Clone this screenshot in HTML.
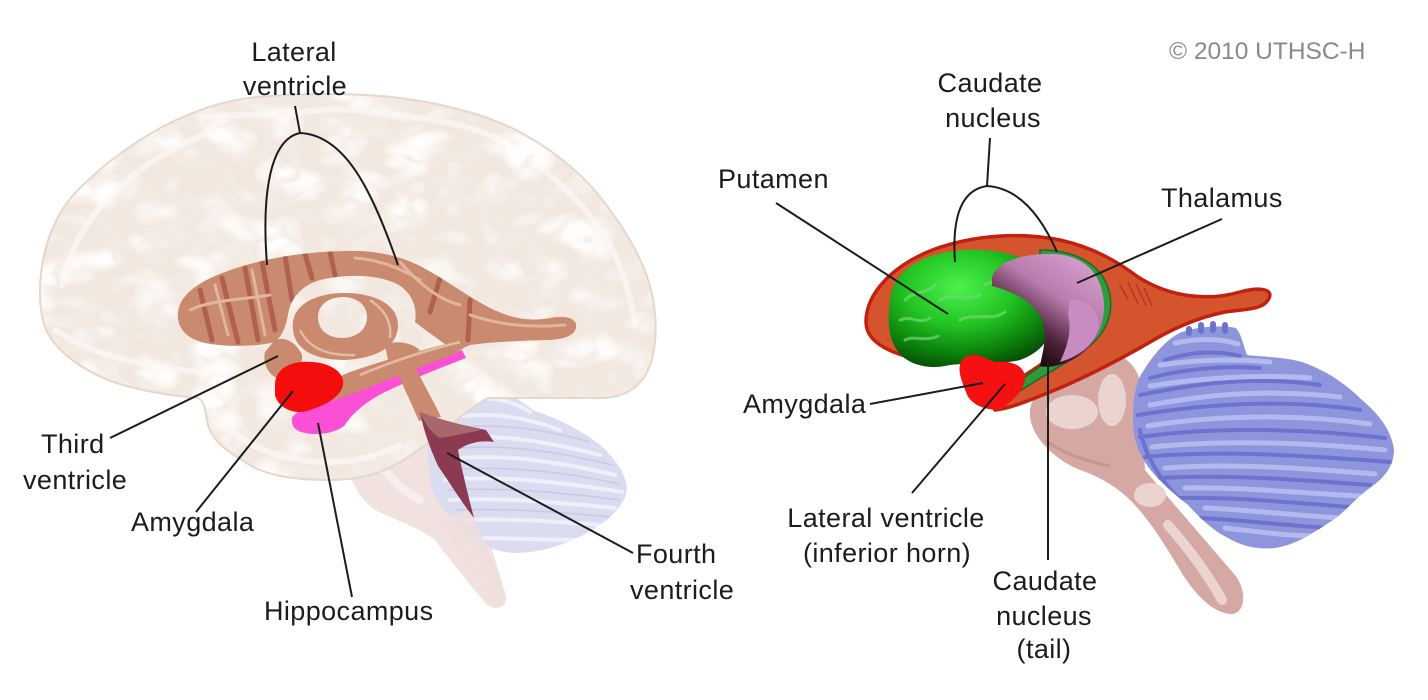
<!DOCTYPE html>
<html>
<head>
<meta charset="utf-8">
<style>
html,body{margin:0;padding:0;background:#fff;}
svg{display:block;}
text{font-family:"Liberation Sans",Arial,sans-serif;font-size:27px;fill:#1c1c1c;letter-spacing:0.4px;}
</style>
</head>
<body>
<svg width="1428" height="700" viewBox="0 0 1428 700" xmlns="http://www.w3.org/2000/svg">
<defs>
  <clipPath id="cbrain">
    <path d="M40,292 C40,250 55,212 80,188 C105,163 130,145 162,127 C195,110 225,100 258,97 C300,93 350,93 392,97 C435,102 478,112 512,128 C548,146 582,172 604,202 C627,232 645,262 652,294 C659,328 656,360 643,379 C633,392 620,397 605,398 L488,398 C465,410 430,445 400,462 C380,475 355,480 330,480 C295,480 265,476 245,462 C225,450 212,440 208,425 C205,412 206,402 198,398 C170,396 135,390 108,380 C80,368 57,352 46,330 C41,318 40,305 40,292 Z"/>
  </clipPath>
  <clipPath id="cvent">
    <path d="M178,318 C176,298 195,283 225,272 C260,259 300,252 345,251 C375,250 400,256 420,266 C445,279 465,295 490,308 C510,318 530,322 550,318 C565,315 578,318 576,328 C574,337 560,340 545,340 C515,341 490,342 470,345 L455,352 C440,340 425,330 415,322 C418,305 410,290 395,283 C375,274 345,274 320,280 C300,286 290,300 288,315 C286,325 283,335 275,342 C255,347 225,347 205,343 C188,339 179,330 178,318 Z"/>
  </clipPath>
  <clipPath id="ccbl">
    <path d="M427,443 C428,420 440,405 470,387 C490,385 507,390 533,410 C555,418 577,427 600,445 C615,458 627,475 627,490 C625,505 610,520 587,533 C565,545 540,553 515,553 C490,552 470,540 460,527 C445,512 432,498 430,480 Z"/>
  </clipPath>
  <clipPath id="ccbr">
    <path d="M1133,420 C1133,400 1135,385 1142,373 C1155,352 1168,338 1182,332 C1200,326 1222,325 1236,328 C1242,335 1243,345 1247,355 C1265,357 1285,357 1302,362 C1325,370 1345,383 1362,400 C1380,415 1392,432 1394,450 C1394,468 1382,480 1367,490 C1352,502 1342,515 1330,522 C1310,535 1295,545 1275,548 C1255,550 1240,545 1228,538 C1212,530 1200,518 1188,505 C1172,492 1155,478 1145,462 C1137,450 1133,435 1133,420 Z"/>
  </clipPath>
  <filter id="sulci" filterUnits="userSpaceOnUse" x="30" y="85" width="640" height="410">
    <feTurbulence type="turbulence" baseFrequency="0.017 0.025" numOctaves="2" seed="7"/>
    <feColorMatrix type="matrix" values="0 0 0 0 0.9  0 0 0 0 0.84  0 0 0 0 0.79  -6 0 0 0 1.0"/>
  </filter>
  <filter id="gyrihl" filterUnits="userSpaceOnUse" x="30" y="85" width="640" height="410">
    <feTurbulence type="turbulence" baseFrequency="0.016 0.024" numOctaves="2" seed="19"/>
    <feColorMatrix type="matrix" values="0 0 0 0 1  0 0 0 0 0.99  0 0 0 0 0.98  3 0 0 0 -0.6"/>
  </filter>
  <radialGradient id="gput" cx="0.42" cy="0.32" r="0.72">
    <stop offset="0" stop-color="#4cf24c"/>
    <stop offset="0.45" stop-color="#22c422"/>
    <stop offset="0.8" stop-color="#0b7d0b"/>
    <stop offset="1" stop-color="#064a06"/>
  </radialGradient>
  <linearGradient id="gthal" x1="1095" y1="260" x2="1030" y2="355" gradientUnits="userSpaceOnUse">
    <stop offset="0" stop-color="#d9a3d1"/>
    <stop offset="0.45" stop-color="#b67cad"/>
    <stop offset="0.78" stop-color="#4e2238"/>
    <stop offset="1" stop-color="#1c0a12"/>
  </linearGradient>
</defs>

<rect width="1428" height="700" fill="#ffffff"/>

<!-- ================= LEFT PANEL ================= -->
<!-- brainstem (left) -->
<path d="M355,420 C380,405 420,405 440,415 L470,470 C480,510 495,560 506,595 C508,608 495,612 486,604 C470,585 450,560 435,540 C420,528 395,520 375,510 C355,495 345,470 347,450 C347,435 350,425 355,420 Z" fill="#f1e2df"/>
<g stroke="#f8efed" stroke-width="8" fill="none" stroke-linecap="round">
  <path d="M370,440 C380,470 400,490 420,500"/>
  <path d="M450,520 C465,545 480,570 492,595"/>
</g>

<!-- cerebellum (left) -->
<path d="M427,443 C428,420 440,405 470,387 C490,385 507,390 533,410 C555,418 577,427 600,445 C615,458 627,475 627,490 C625,505 610,520 587,533 C565,545 540,553 515,553 C490,552 470,540 460,527 C445,512 432,498 430,480 Z" fill="#dcdcf1"/>
<g clip-path="url(#ccbl)" fill="none" stroke="#efeffa" stroke-width="4" stroke-linecap="round">
  <path d="M440,420 C480,410 520,415 560,430"/>
  <path d="M440,440 C490,432 540,440 600,455"/>
  <path d="M440,460 C500,452 560,462 615,475"/>
  <path d="M445,480 C500,475 560,482 622,492"/>
  <path d="M450,500 C505,497 560,503 615,508"/>
  <path d="M460,520 C510,518 560,522 600,525"/>
  <path d="M475,538 C510,538 545,540 575,540"/>
  <path d="M460,400 C490,395 510,400 530,412"/>
</g>
<g clip-path="url(#ccbl)" fill="none" stroke="#c9c9e6" stroke-width="1.5">
  <path d="M440,430 C490,421 540,428 590,442"/>
  <path d="M442,450 C500,442 560,452 612,465"/>
  <path d="M445,470 C505,465 565,472 620,484"/>
  <path d="M448,490 C505,487 565,493 620,500"/>
  <path d="M455,510 C510,508 560,512 610,517"/>
</g>
<path d="M440,520 C455,545 475,570 488,600 C495,610 505,606 505,596 C495,565 482,535 470,510 Z" fill="#efdedc" opacity="0.85"/>

<!-- cerebrum -->
<path d="M40,292 C40,250 55,212 80,188 C105,163 130,145 162,127 C195,110 225,100 258,97 C300,93 350,93 392,97 C435,102 478,112 512,128 C548,146 582,172 604,202 C627,232 645,262 652,294 C659,328 656,360 643,379 C633,392 620,397 605,398 L488,398 C465,410 430,445 400,462 C380,475 355,480 330,480 C295,480 265,476 245,462 C225,450 212,440 208,425 C205,412 206,402 198,398 C170,396 135,390 108,380 C80,368 57,352 46,330 C41,318 40,305 40,292 Z" fill="#f2e8e0"/>
<g clip-path="url(#cbrain)">
  <rect x="30" y="85" width="640" height="410" filter="url(#gyrihl)"/>
  <rect x="30" y="85" width="640" height="410" filter="url(#sulci)"/>
</g>
<g clip-path="url(#cbrain)" fill="none" stroke="#fbf8f5" stroke-width="6" stroke-linecap="round" stroke-linejoin="round" opacity="0.7">
  <path d="M62,285 C70,240 100,200 140,170 C165,152 190,140 215,130"/>
  <path d="M200,118 C235,112 270,118 305,112 C340,106 380,112 420,118 C450,122 475,128 500,140"/>
  <path d="M530,160 C565,185 595,215 615,255 C625,280 632,300 635,325"/>
  <path d="M55,330 C85,350 125,362 165,368 C185,370 200,372 215,375"/>
  <path d="M225,425 C250,450 290,462 330,462 C355,462 380,455 400,445"/>
</g>
<path d="M40,292 C40,250 55,212 80,188 C105,163 130,145 162,127 C195,110 225,100 258,97 C300,93 350,93 392,97 C435,102 478,112 512,128 C548,146 582,172 604,202 C627,232 645,262 652,294 C659,328 656,360 643,379 C633,392 620,397 605,398 L488,398 C465,410 430,445 400,462 C380,475 355,480 330,480 C295,480 265,476 245,462 C225,450 212,440 208,425 C205,412 206,402 198,398 C170,396 135,390 108,380 C80,368 57,352 46,330 C41,318 40,305 40,292 Z" fill="none" stroke="#e5d7cc" stroke-width="2"/>

<!-- hippocampus (under the inferior horn) -->
<path d="M292,418 C300,405 330,400 360,390 C400,375 430,362 462,350 L466,358 C440,368 410,380 385,392 C365,402 352,414 345,425 C338,432 320,436 305,433 C295,431 291,426 292,418 Z" fill="#fb4fd6"/>

<!-- lateral ventricle (left) -->
<g fill="#c98a70">
  <path d="M178,318 C176,298 195,283 225,272 C260,259 300,252 345,251 C375,250 400,256 420,266 C445,279 465,295 490,308 C510,318 530,322 550,318 C565,315 578,318 576,328 C574,337 560,340 545,340 C515,341 490,342 470,345 L455,352 C440,340 425,330 415,322 C418,305 410,290 395,283 C375,274 345,274 320,280 C300,286 290,300 288,315 C286,325 283,335 275,342 C255,347 225,347 205,343 C188,339 179,330 178,318 Z"/>
  <path d="M293,330 C290,305 315,293 345,293 C375,293 398,305 398,325 C398,345 380,358 345,360 C315,360 295,350 293,330 Z M318,317 C318,304 330,297 343,297 C357,297 367,305 367,317 C367,330 356,338 342,338 C328,338 318,330 318,317 Z" fill-rule="evenodd"/>
  <path d="M480,336 C440,345 390,358 350,372 C330,380 318,388 312,398 C315,405 325,404 335,400 C370,388 410,370 455,354 Z"/>
  <path d="M275,340 C285,336 297,343 302,355 C303,368 294,378 283,380 C270,378 262,365 265,352 Z"/>
  <path d="M385,345 C395,340 410,342 420,350 C410,356 398,360 388,360 Z"/>
  <path d="M392,360 L410,356 C420,378 432,398 441,417 L419,421 C410,400 400,380 392,360 Z"/>
</g>
<g clip-path="url(#cvent)" fill="none" stroke-linecap="round">
  <g stroke="#b0604c" stroke-width="5">
    <path d="M200,290 L212,340"/><path d="M222,278 L238,342"/><path d="M245,268 L258,340"/>
    <path d="M262,262 L275,330"/><path d="M285,256 L292,300"/><path d="M305,254 L312,278"/>
    <path d="M330,252 L335,275"/><path d="M440,278 L430,312"/><path d="M470,300 L468,340"/>
  </g>
  <g stroke="#e2b69e" stroke-width="3">
    <path d="M190,310 C210,300 240,300 270,295"/><path d="M215,285 L228,335"/>
    <path d="M355,258 C380,260 400,268 420,280"/><path d="M470,315 C500,325 530,328 565,325"/>
    <path d="M252,270 L265,335"/><path d="M400,262 C420,285 440,300 460,305"/>
  </g>
</g>
<g fill="none" stroke="#e4bca6" stroke-width="2.5">
  <path d="M300,330 C310,350 330,356 355,355"/>
  <path d="M370,300 C385,310 392,322 390,338"/>
  <path d="M360,375 C390,362 420,352 460,342"/>
</g>
<!-- amygdala (left) -->
<path d="M275,385 C275,368 292,360 312,362 C330,363 345,372 343,385 C340,398 325,405 310,410 C295,416 278,408 275,395 Z" fill="#f30d0d"/>
<!-- fourth ventricle -->
<path d="M420,412 C435,418 460,425 486,430 L494,442 C480,440 468,443 458,450 C462,470 468,495 474,518 C460,500 448,480 438,466 C430,448 424,432 420,412 Z" fill="#8c3a51"/>
<path d="M420,412 C435,418 460,425 482,430 C470,432 455,436 440,438 C430,432 424,422 420,412 Z" fill="#a8676d"/>

<!-- left connectors -->
<g fill="none" stroke="#1c1c1c" stroke-width="2">
  <path d="M295,106 L300,133"/>
  <path d="M267,265 C262,200 268,140 300,133 C345,135 372,190 398,265"/>
  <path d="M110,438 L278,356"/>
  <path d="M196,512 L293,391"/>
  <path d="M352,597 L318,423"/>
  <path d="M633,553 L447,453"/>
</g>

<!-- left labels -->
<text x="294" y="61" text-anchor="middle">Lateral</text>
<text x="295" y="95" text-anchor="middle">ventricle</text>
<text x="41" y="453">Third</text>
<text x="23" y="489">ventricle</text>
<text x="131" y="531">Amygdala</text>
<text x="264" y="620">Hippocampus</text>
<text x="636" y="563">Fourth</text>
<text x="630" y="599">ventricle</text>

<!-- ================= RIGHT PANEL ================= -->
<!-- brainstem (right) -->
<path d="M1032,402 C1040,388 1060,382 1078,380 C1078,368 1090,355 1108,354 C1125,354 1135,365 1140,380 L1145,470 C1170,500 1205,540 1235,575 C1248,592 1245,615 1230,614 C1212,612 1195,595 1180,570 C1165,545 1150,520 1130,500 C1115,485 1095,475 1080,470 C1060,462 1040,445 1033,428 C1029,418 1029,410 1032,402 Z" fill="#d6a8a3"/>
<g fill="#ebd4d0">
  <ellipse cx="1072" cy="412" rx="26" ry="17"/>
  <ellipse cx="1112" cy="400" rx="14" ry="26"/>
  <ellipse cx="1150" cy="495" rx="16" ry="12"/>
</g>
<path d="M1168,525 C1190,550 1208,575 1222,600" stroke="#ebd4d0" stroke-width="10" fill="none" stroke-linecap="round"/>
<path d="M1045,440 C1065,455 1090,462 1110,466" stroke="#c9958f" stroke-width="3" fill="none"/>

<!-- cerebellum (right) -->
<path d="M1133,420 C1133,400 1135,385 1142,373 C1155,352 1168,338 1182,332 C1200,326 1222,325 1236,328 C1242,335 1243,345 1247,355 C1265,357 1285,357 1302,362 C1325,370 1345,383 1362,400 C1380,415 1392,432 1394,450 C1394,468 1382,480 1367,490 C1352,502 1342,515 1330,522 C1310,535 1295,545 1275,548 C1255,550 1240,545 1228,538 C1212,530 1200,518 1188,505 C1172,492 1155,478 1145,462 C1137,450 1133,435 1133,420 Z" fill="#8e95dd"/>
<g clip-path="url(#ccbr)" fill="none" stroke-linecap="round">
  <g stroke="#6b73cf" stroke-width="4">
    <path d="M1140,395 C1190,385 1250,375 1320,385"/>
    <path d="M1138,415 C1200,405 1280,398 1360,410"/>
    <path d="M1140,437 C1210,427 1300,428 1385,438"/>
    <path d="M1145,457 C1215,450 1300,455 1390,462"/>
    <path d="M1160,478 C1230,474 1300,480 1370,485"/>
    <path d="M1180,498 C1240,497 1295,503 1350,507"/>
    <path d="M1200,518 C1245,520 1290,526 1330,528"/>
    <path d="M1165,360 C1190,352 1215,350 1240,356"/>
    <path d="M1150,378 C1180,370 1220,365 1260,368"/>
    <path d="M1140,430 C1145,455 1160,480 1180,500"/>
  </g>
  <g stroke="#b4b9ef" stroke-width="5">
    <path d="M1150,405 C1200,396 1260,388 1340,397"/>
    <path d="M1148,426 C1210,416 1290,413 1370,424"/>
    <path d="M1152,447 C1220,440 1300,442 1385,450"/>
    <path d="M1165,468 C1230,463 1300,468 1375,474"/>
    <path d="M1185,488 C1240,487 1300,493 1360,496"/>
    <path d="M1205,508 C1250,510 1290,515 1340,518"/>
    <path d="M1225,528 C1260,532 1290,536 1315,536"/>
    <path d="M1175,343 C1200,338 1220,338 1238,344"/>
    <path d="M1160,365 C1195,360 1230,358 1270,362"/>
    <path d="M1150,386 C1200,378 1260,374 1310,378"/>
  </g>
</g>
<g fill="#6b73cf">
  <rect x="1186" y="326" width="6" height="10" rx="3"/>
  <rect x="1198" y="322" width="6" height="12" rx="3"/>
  <rect x="1210" y="321" width="6" height="12" rx="3"/>
  <rect x="1222" y="322" width="6" height="12" rx="3"/>
</g>

<!-- red outer (lateral ventricle, right) -->
<path d="M866,322 C866,292 895,264 935,249 C975,235 1020,232 1060,240 C1095,248 1118,262 1138,277 C1168,296 1205,302 1240,292 C1262,286 1275,290 1268,300 C1262,310 1245,309 1225,312 C1195,318 1170,330 1145,345 C1115,362 1080,380 1050,392 C1030,400 1012,408 995,410 C988,400 998,390 1010,384 C1035,370 1060,352 1075,335 L1060,330 C1040,345 1010,360 960,360 L905,356 C885,350 866,340 866,322 Z" fill="#d4552d" stroke="#c3200f" stroke-width="3.5" stroke-linejoin="round"/>
<g fill="none" stroke="#b8361e" stroke-width="1.5">
  <path d="M1120,285 L1128,300"/><path d="M1128,282 L1138,304"/><path d="M1136,284 L1146,306"/><path d="M1144,288 L1152,306"/>
</g>
<!-- white gap -->
<path d="M1018,352 C1035,348 1055,340 1068,332 C1060,345 1045,358 1030,366 C1025,362 1020,357 1018,352 Z" fill="#ffffff"/>
<!-- green strip (caudate body/tail) -->
<path d="M1040,250 C1075,250 1104,264 1110,295 C1114,320 1102,338 1082,352 C1062,366 1035,380 1010,398 L1002,394 C1025,376 1050,360 1070,346 C1090,332 1100,318 1098,297 C1094,272 1072,260 1040,260 Z" fill="#2f9a3c" stroke="#1c6a24" stroke-width="1.5"/>
<!-- putamen / caudate head -->
<path d="M890,300 C892,270 925,252 965,250 C1010,248 1045,262 1055,290 C1062,320 1050,350 1020,360 C995,366 960,362 945,366 C930,369 905,366 895,347 C887,332 888,315 890,300 Z" fill="url(#gput)"/>
<g fill="none" stroke="#74d674" stroke-width="3" opacity="0.7" stroke-linecap="round">
  <path d="M905,300 C915,290 925,295 935,285"/>
  <path d="M900,320 C912,315 918,325 930,318"/>
  <path d="M940,300 C955,292 965,302 980,295"/>
  <path d="M960,320 C975,312 990,322 1005,312"/>
  <path d="M905,340 C915,335 925,342 938,336"/>
  <path d="M985,285 C995,278 1005,285 1015,278"/>
</g>
<!-- thalamus -->
<path d="M992,278 C995,262 1022,253 1055,254 C1085,256 1102,274 1104,303 C1105,330 1092,350 1072,360 C1060,366 1048,368 1040,366 C1043,350 1048,335 1042,320 C1034,302 1015,292 992,286 Z" fill="url(#gthal)"/>
<path d="M1070,300 C1085,298 1099,310 1099,325 C1097,342 1081,356 1060,362 C1068,345 1072,330 1068,315 Z" fill="#c98cc2"/>
<!-- amygdala (right) -->
<path d="M960,365 C962,355 975,352 985,358 L995,362 C1010,360 1025,365 1025,378 C1025,392 1010,402 1000,410 C985,410 970,405 966,392 C962,382 958,372 960,365 Z" fill="#f51111"/>

<!-- right connectors -->
<g fill="none" stroke="#1c1c1c" stroke-width="2">
  <path d="M990,138 L987,186"/>
  <path d="M955,262 C952,220 960,190 987,186 C1020,188 1042,218 1057,252"/>
  <path d="M776,203 L948,314"/>
  <path d="M1222,219 L1077,283"/>
  <path d="M870,404 L983,383"/>
  <path d="M912,493 L1005,384"/>
  <path d="M1048,362 L1048,560"/>
</g>

<!-- right labels -->
<text x="1169" y="59" style="font-size:24.5px;fill:#8a8a8a;letter-spacing:0">© 2010 UTHSC-H</text>
<text x="990" y="92" text-anchor="middle">Caudate</text>
<text x="993" y="127" text-anchor="middle">nucleus</text>
<text x="718" y="188">Putamen</text>
<text x="1161" y="207">Thalamus</text>
<text x="743" y="413">Amygdala</text>
<text x="886" y="527" text-anchor="middle">Lateral ventricle</text>
<text x="887" y="562" text-anchor="middle">(inferior horn)</text>
<text x="1045" y="590" text-anchor="middle">Caudate</text>
<text x="1044" y="625" text-anchor="middle">nucleus</text>
<text x="1044" y="658" text-anchor="middle">(tail)</text>
</svg>
</body>
</html>
